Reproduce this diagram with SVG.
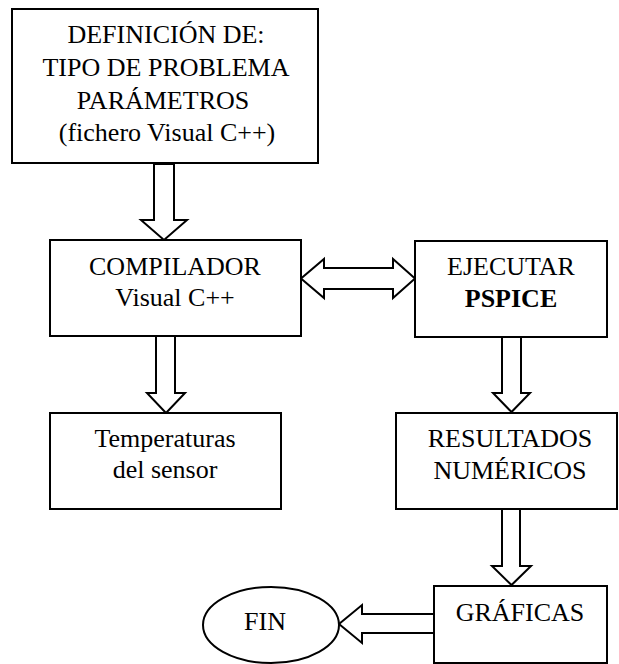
<svg xmlns="http://www.w3.org/2000/svg" width="619" height="664" viewBox="0 0 619 664">
<style>
.box{fill:#fff;stroke:#000;stroke-width:2}
.arr{fill:#fff;stroke:#000;stroke-width:2;stroke-linejoin:miter}
text{font-family:"Liberation Serif","Times New Roman",serif;font-size:26px;fill:#000;text-anchor:middle}
.b{font-weight:bold}
</style>
<rect width="619" height="664" fill="#fff"/>
<g id="connectors">
<polygon class="arr" points="154,164 174,164 174,220 187,220 164,240 141,220 154,220"/>
<polygon class="arr" points="156,336 175,336 175,393 185,393 166,413 147,393 156,393"/>
<polygon class="arr" points="502,337 521,337 521,393 530,393 511.5,412 493,393 502,393"/>
<polygon class="arr" points="502,509 520,509 520,566 531,566 511.5,585 492,566 502,566"/>
<polygon class="arr" points="434,614 362,614 362,605 339,624 362,643 362,633 434,633"/>
<polygon class="arr" points="301,278.5 324,259 324,268 393,268 393,259 415,278.5 393,298 393,289 324,289 324,298"/>
</g>
<g id="definicion">
<rect class="box" x="12" y="9" width="306" height="154"/>
<text x="166" y="43">DEFINICIÓN DE:</text>
<text x="166" y="76">TIPO DE PROBLEMA</text>
<text x="163" y="109">PARÁMETROS</text>
<text x="167" y="141">(fichero Visual C++)</text>
</g>
<g id="compilador">
<rect class="box" x="50" y="240" width="251" height="96"/>
<text x="175" y="275">COMPILADOR</text>
<text x="175" y="306">Visual C++</text>
</g>
<g id="ejecutar">
<rect class="box" x="415" y="241" width="192" height="96"/>
<text x="511" y="275">EJECUTAR</text>
<text class="b" x="511" y="307">PSPICE</text>
</g>
<g id="temperaturas">
<rect class="box" x="50" y="413" width="231" height="96"/>
<text x="165" y="447">Temperaturas</text>
<text x="165" y="478">del sensor</text>
</g>
<g id="resultados">
<rect class="box" x="396" y="413" width="221" height="96"/>
<text x="510" y="447">RESULTADOS</text>
<text x="510" y="479">NUMÉRICOS</text>
</g>
<g id="graficas">
<rect class="box" x="434" y="586" width="173" height="77"/>
<text x="520" y="621">GRÁFICAS</text>
</g>
<g id="fin">
<ellipse class="box" cx="271" cy="625" rx="68" ry="38"/>
<text x="265" y="630">FIN</text>
</g>
</svg>
